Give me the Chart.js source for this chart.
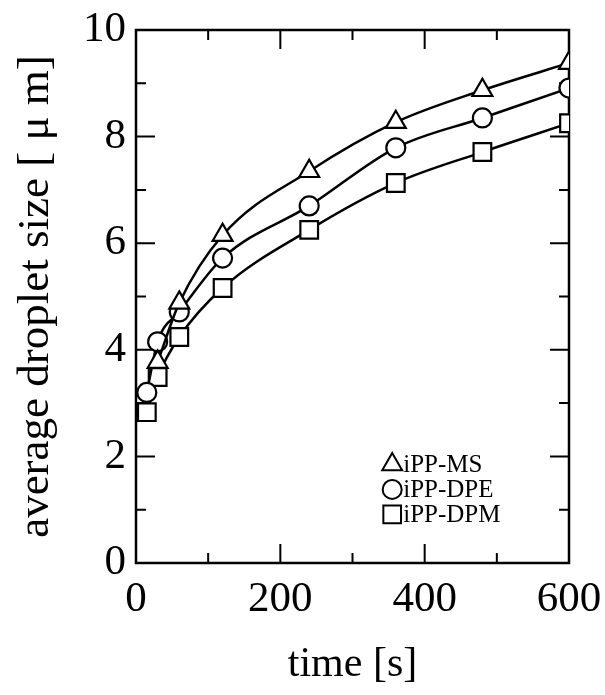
<!DOCTYPE html>
<html>
<head>
<meta charset="utf-8">
<script src="https://cdn.jsdelivr.net/npm/chart.js@4.4.1/dist/chart.umd.min.js"></script>
<style>
  body { margin: 0; background: #fff; }
  canvas { display: block; }
</style>
</head>
<body>
<canvas id="dropletChart" width="605" height="695"></canvas>
<script>
// time in seconds
const times = [15, 30, 60, 120, 240, 360, 480, 600];

// average droplet size [um]
const msSizes  = [null, 3.77, 4.88, 6.15, 7.35, 8.27, 8.87, 9.38];
const dpeSizes = [3.20, 4.15, 4.71, 5.72, 6.70, 7.79, 8.35, 8.91];
const dpmSizes = [2.83, 3.49, 4.24, 5.16, 6.25, 7.13, 7.71, 8.25];

const seriesNames = ['iPP-MS', 'iPP-DPE', 'iPP-DPM'];
const xTicks = [0, 200, 400, 600];
const yTicks = [0, 2, 4, 6, 8, 10];

const FONT = "'Liberation Serif', 'Times New Roman', serif";

function toPoints(values) {
    return times.map((t, i) => ({ x: t, y: values[i] }));
}

function series(label, values, style, radius) {
    return {
        label: label,
        data: toPoints(values),
        borderColor: '#000',
        borderWidth: 2.5,
        backgroundColor: '#fff',
        pointStyle: style,
        pointRadius: radius,
        pointBorderWidth: 2.2,
        pointBorderColor: '#000',
        pointBackgroundColor: '#fff',
        cubicInterpolationMode: 'monotone',
        fill: false
    };
}

// frame with inward major/minor ticks on all four sides
const framePlugin = {
    id: 'frame',
    beforeDatasetsDraw(chart) {
        const { ctx, chartArea: a, scales } = chart;
        const xs = scales.x, ys = scales.y;
        ctx.save();
        ctx.strokeStyle = '#000';
        ctx.lineWidth = 2.5;
        ctx.strokeRect(a.left, a.top, a.right - a.left, a.bottom - a.top);
        ctx.lineWidth = 2;
        ctx.beginPath();
        for (let v = 0; v <= 600; v += 100) {
            const len = v % 200 === 0 ? 19 : 10;
            const px = xs.getPixelForValue(v);
            ctx.moveTo(px, a.bottom); ctx.lineTo(px, a.bottom - len);
            ctx.moveTo(px, a.top); ctx.lineTo(px, a.top + len);
        }
        for (let v = 0; v <= 10; v += 1) {
            const len = v % 2 === 0 ? 19 : 10;
            const py = ys.getPixelForValue(v);
            ctx.moveTo(a.left, py); ctx.lineTo(a.left + len, py);
            ctx.moveTo(a.right, py); ctx.lineTo(a.right - len, py);
        }
        ctx.stroke();
        ctx.restore();
    },
    afterDraw(chart) {
        // legend in the lower right of the plot
        const { ctx } = chart;
        const xs = chart.scales.x, ys = chart.scales.y;
        const mx = xs.getPixelForValue(355);
        let my = ys.getPixelForValue(1.85);
        ctx.save();
        ctx.font = '25px ' + FONT;
        ctx.textBaseline = 'middle';
        chart.data.datasets.forEach(ds => {
            ctx.fillStyle = '#fff';
            ctx.strokeStyle = '#000';
            ctx.lineWidth = 2;
            Chart.helpers.drawPoint(ctx, {
                pointStyle: ds.pointStyle,
                radius: ds.pointRadius,
                borderWidth: 2,
                rotation: 0
            }, mx, my);
            ctx.fillStyle = '#000';
            ctx.fillText(ds.label, mx + 11, my + 1);
            my += 25;
        });
        ctx.restore();
    }
};

new Chart(document.getElementById('dropletChart'), {
    type: 'line',
    data: {
        datasets: [
            series(seriesNames[0], msSizes, 'triangle', 11.5),
            series(seriesNames[1], dpeSizes, 'circle', 9.5),
            series(seriesNames[2], dpmSizes, 'rect', 12.5)
        ]
    },
    options: {
        responsive: false,
        animation: false,
        layout: { padding: { top: 30, right: 36, left: 0, bottom: 0 } },
        plugins: {
            legend: { display: false },
            tooltip: { enabled: false }
        },
        scales: {
            x: {
                type: 'linear',
                min: 0,
                max: 600,
                afterBuildTicks(scale) { scale.ticks = xTicks.map(v => ({ value: v })); },
                afterFit(scale) {
                    scale.height = 132;
                    scale.paddingLeft = 0;
                    scale.paddingRight = 0;
                },
                grid: { display: false, drawTicks: false },
                border: { display: false },
                ticks: {
                    padding: 11,
                    color: '#000',
                    maxRotation: 0,
                    font: { family: FONT, size: 43 }
                },
                title: {
                    display: true,
                    text: 'time [s]',
                    color: '#000',
                    padding: { top: 0, bottom: 5 },
                    font: { family: FONT, size: 42 }
                }
            },
            y: {
                min: 0,
                max: 10,
                afterBuildTicks(scale) { scale.ticks = yTicks.map(v => ({ value: v })); },
                afterFit(scale) {
                    scale.width = 136;
                    scale.paddingTop = 0;
                    scale.paddingBottom = 0;
                },
                grid: { display: false, drawTicks: false },
                border: { display: false },
                ticks: {
                    padding: 10,
                    color: '#000',
                    font: { family: FONT, size: 43 }
                },
                title: {
                    display: true,
                    text: 'average droplet size [ μ m]',
                    color: '#000',
                    padding: { top: 9, bottom: 0 },
                    font: { family: FONT, size: 45 }
                }
            }
        }
    },
    plugins: [framePlugin]
});
</script>
</body>
</html>
